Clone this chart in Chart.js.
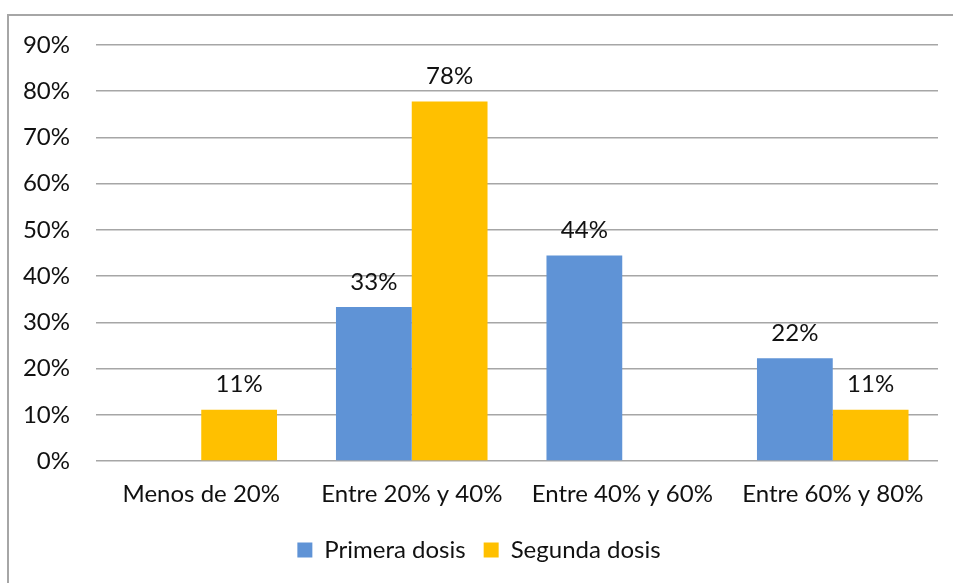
<!DOCTYPE html>
<html>
<head>
<meta charset="utf-8">
<script src="https://cdn.jsdelivr.net/npm/chart.js@4"></script>
<style>
    html, body { margin: 0; padding: 0; background: #fff; overflow: hidden; }
    #chart { display: block; }
</style>
</head>
<body>
<canvas id="chart" width="953" height="583"></canvas>
<script>
const categories = ['Menos de 20%', 'Entre 20% y 40%', 'Entre 40% y 60%', 'Entre 60% y 80%'];
const primeraDosis = [0, 33.33, 44.44, 22.22];
const segundaDosis = [11.11, 77.78, 0, 11.11];
const yTicks = [0, 10, 20, 30, 40, 50, 60, 70, 80, 90];

const FONT = 'Lato, "Open Sans", sans-serif';

// marco del gráfico (solo borde superior e izquierdo quedan dentro de la imagen)
const frame = {
    id: 'frame',
    beforeDraw(chart) {
        const ctx = chart.ctx;
        ctx.save();
        ctx.strokeStyle = '#a6a6a6';
        ctx.lineWidth = 2;
        ctx.beginPath();
        ctx.moveTo(8, chart.height + 5);
        ctx.lineTo(8, 15);
        ctx.lineTo(chart.width + 5, 15);
        ctx.stroke();
        ctx.restore();
    }
};

// etiquetas encima de cada barra (solo valores distintos de cero)
const barLabels = {
    id: 'barLabels',
    afterDatasetsDraw(chart) {
        const ctx = chart.ctx;
        ctx.save();
        ctx.font = '24px ' + FONT;
        ctx.fillStyle = '#111';
        ctx.textAlign = 'center';
        ctx.textBaseline = 'bottom';
        chart.data.datasets.forEach((ds, i) => {
            chart.getDatasetMeta(i).data.forEach((bar, j) => {
                const v = ds.data[j];
                if (!v) return;
                ctx.fillText(Math.round(v) + '%', bar.x, bar.y - 13);
            });
        });
        ctx.restore();
    }
};

const ctx = document.getElementById('chart').getContext('2d');
new Chart(ctx, {
    type: 'bar',
    data: {
        labels: categories,
        datasets: [
            { label: 'Primera dosis', data: primeraDosis, backgroundColor: '#5F93D6', categoryPercentage: 0.72, barPercentage: 1 },
            { label: 'Segunda dosis', data: segundaDosis, backgroundColor: '#FFC000', categoryPercentage: 0.72, barPercentage: 1 }
        ]
    },
    options: {
        responsive: false,
        animation: false,
        layout: { padding: { left: 20, right: 15, top: 45, bottom: 11 } },
        plugins: {
            legend: {
                position: 'bottom',
                labels: {
                    font: { family: FONT, size: 24 },
                    color: '#111',
                    boxWidth: 15,
                    boxHeight: 15,
                    padding: 18
                }
            },
            tooltip: { enabled: false }
        },
        scales: {
            x: {
                grid: { display: false },
                border: { display: false },
                ticks: { font: { family: FONT, size: 24 }, color: '#111', padding: 11 },
                afterFit(scale) { scale.height = 59; }
            },
            y: {
                min: 0,
                max: 90,
                afterBuildTicks(scale) { scale.ticks = yTicks.map(v => ({ value: v })); },
                grid: { color: '#a6a6a6', lineWidth: 1.5, drawTicks: false },
                border: { display: false },
                ticks: {
                    font: { family: FONT, size: 24 },
                    color: '#111',
                    padding: 26,
                    callback: v => v + '%'
                },
                afterFit(scale) { scale.width = 76; }
            }
        }
    },
    plugins: [frame, barLabels]
});
</script>
</body>
</html>
